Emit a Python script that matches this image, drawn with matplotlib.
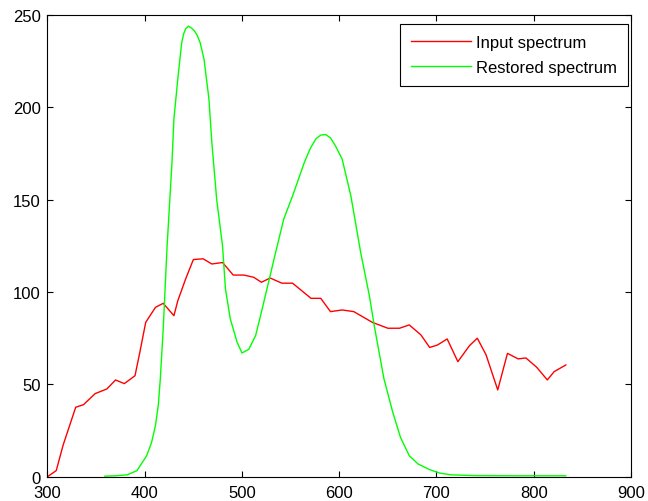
import matplotlib
matplotlib.use("Agg")
import matplotlib.pyplot as plt

plt.rcParams['font.family'] = ['Liberation Sans', 'DejaVu Sans']

# input spectrum (red)
input_wl = [300, 309, 316, 329, 337, 349, 361, 370, 379, 390, 395, 401, 411, 419,
            430, 434, 442, 450, 460, 469, 480, 491, 502, 512, 520, 529, 541, 552,
            571, 581, 591, 603, 615, 634, 650, 662, 672, 684, 693, 701, 711, 722,
            734, 742, 751, 763, 773, 784, 792, 803, 814, 821, 833]
input_val = [0, 3.3, 17, 37.6, 39, 45, 47.5, 52.4, 50.4, 54.7, 67.5, 83.6, 91.7, 93.9,
             87.2, 95.3, 107, 117.6, 118, 115.2, 116, 109.2, 109.2, 108, 105.3, 107.6, 104.8, 104.8,
             96.6, 96.6, 89.4, 90.3, 89.4, 83.6, 80.4, 80.4, 82.2, 76.8, 70, 71.3, 74.6, 62.3,
             71, 75, 66, 47, 66.8, 63.8, 64.3, 59.3, 52.4, 56.9, 60.5]

# restored spectrum (green)
restored_wl = [359, 370, 382, 392, 402, 407, 411, 414, 416, 419, 423, 426, 428, 430, 434, 438,
               440, 442, 445, 448, 451, 454, 457, 461, 466, 469, 474, 480, 483, 488,
               495, 500, 507, 514, 519, 529, 533, 543, 552, 564, 570, 576, 581, 586,
               591, 596, 603, 612, 622, 631, 636, 646, 655, 663, 672, 681, 693, 703,
               715, 740, 780, 833]
restored_val = [0.3, 0.5, 1, 3.3, 11.4, 18.5, 27.6, 39, 53, 80, 125, 152, 170, 193.7, 215.4, 235,
                239.8, 242.5, 244, 243, 241.5, 239, 235, 226, 204.6, 181, 150, 125, 101.7, 85.4,
                72.8, 67, 69, 76.4, 87, 109, 118, 139.6, 152, 170, 177.5, 183, 185, 185.3,
                183.5, 179.3, 172, 152, 121.6, 98, 81.8, 53, 35, 21.3, 11.4, 6.9, 3.8, 2,
                1, 0.6, 0.5, 0.5]

fig = plt.figure(figsize=(6.48, 5.02), dpi=100)
ax = fig.add_axes([0.0733, 0.0484, 0.9004, 0.9196])

ax.plot(input_wl, input_val, color=(1, 0, 0), lw=1, label="Input spectrum")
ax.plot(restored_wl, restored_val, color=(0, 1, 0), lw=1, label="Restored spectrum")

ax.set_xlim(300, 900)
ax.set_ylim(0, 250)
ax.set_xticks(range(300, 901, 100))
ax.set_yticks(range(0, 251, 50))
ax.tick_params(direction="in", top=True, right=True, length=4, labelsize=12, pad=5)
ax.tick_params(axis="x", pad=6)
for s in ax.spines.values():
    s.set_linewidth(0.8)

leg = ax.legend(loc="upper right", bbox_to_anchor=(0.995, 0.98), borderaxespad=0,
                fancybox=False, edgecolor="black", framealpha=1, fontsize=12,
                handlelength=3.6, handletextpad=0.3, labelspacing=0.6, borderpad=0.65)
leg.get_frame().set_linewidth(0.8)

fig.savefig("out.png", dpi=100)
